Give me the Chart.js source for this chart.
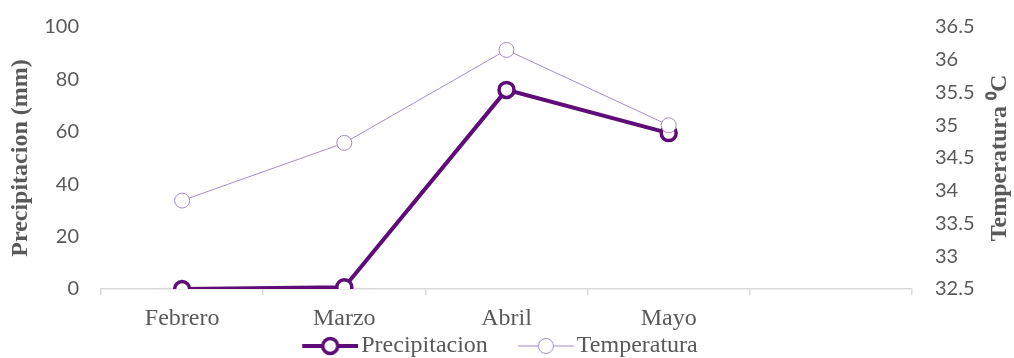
<!DOCTYPE html>
<html lang="es">
<head>
<meta charset="UTF-8">
<title>Precipitacion y Temperatura</title>
<script src="https://cdn.jsdelivr.net/npm/chart.js"></script>
<style>
  html,body{margin:0;padding:0;background:#fff;}
  #wrap{width:1014px;height:358px;position:relative;}
</style>
</head>
<body>
<div id="wrap"><canvas id="chart"></canvas></div>
<script>
const meses = ['Febrero', 'Marzo', 'Abril', 'Mayo', ''];
const precipitacion = [0, 0.7, 76, 59.5, null];
const temperatura = [33.85, 34.73, 36.15, 35.0, null];
const ticksPrecip = [0, 20, 40, 60, 80, 100];
const ticksTemp = [32.5, 33, 33.5, 34, 34.5, 35, 35.5, 36, 36.5];

const colPrecip = '#5E0C78';
const colTemp = '#A68CC0';
const gris = '#595959';
const serif = '"Liberation Serif", "Times New Roman", serif';

// legend swatch: blank lead-in on the left, then a line with a hollow circle
function swatch(color, lw, r, bw) {
  const c = document.createElement('canvas');
  c.width = 91; c.height = 22;
  const g = c.getContext('2d');
  g.strokeStyle = color;
  g.lineWidth = lw;
  g.beginPath(); g.moveTo(35, 11); g.lineTo(91, 11); g.stroke();
  g.beginPath(); g.arc(63, 11, r, 0, Math.PI * 2);
  g.fillStyle = '#fff'; g.fill();
  g.lineWidth = bw; g.stroke();
  return c;
}

// right axis title reads bottom to top; legend and x labels nudged into place
const ajustes = {
  id: 'ajustes',
  afterLayout(chart) {
    const lg = chart.legend;
    lg.top += 10; lg.bottom += 10;
    lg.left -= 20; lg.right -= 20;
    // let the month labels run below the squeezed x box without clipping
    const x = chart.scales.x;
    x.bottom += 30; x.height += 30;
  },
  afterDraw(chart) {
    const y = chart.scales.y1;
    const ctx = chart.ctx;
    ctx.save();
    ctx.translate(1000, (y.top + y.bottom) / 2);
    ctx.rotate(-Math.PI / 2);
    ctx.font = 'bold 24px ' + serif;
    ctx.fillStyle = gris;
    ctx.textAlign = 'center';
    ctx.textBaseline = 'middle';
    ctx.fillText('Temperatura \u2070C', 0, 0);
    ctx.restore();
  }
};

new Chart(document.getElementById('chart'), {
  type: 'line',
  data: {
    labels: meses,
    datasets: [
      {
        label: 'Temperatura',
        data: temperatura,
        yAxisID: 'y1',
        borderColor: colTemp,
        borderWidth: 1,
        pointRadius: 7.5,
        pointBorderWidth: 1,
        pointBackgroundColor: '#fff',
        pointBorderColor: colTemp,
        order: 1
      },
      {
        label: 'Precipitacion',
        data: precipitacion,
        yAxisID: 'y',
        borderColor: colPrecip,
        borderWidth: 4,
        pointRadius: 7.5,
        pointBorderWidth: 3.5,
        pointBackgroundColor: '#fff',
        pointBorderColor: colPrecip,
        order: 2
      }
    ]
  },
  options: {
    responsive: true,
    maintainAspectRatio: false,
    animation: false,
    layout: { padding: { top: 5, bottom: 0, left: 0, right: 0 } },
    plugins: {
      tooltip: { enabled: false },
      legend: {
        position: 'bottom',
        reverse: true,
        labels: {
          usePointStyle: true,
          pointStyleWidth: 73,
          boxHeight: 20,
          padding: 4,
          color: gris,
          font: { family: serif, size: 24 },
          generateLabels(chart) {
            return chart.data.datasets.map((ds, i) => ({
              text: ds.label,
              datasetIndex: i,
              fontColor: gris,
              pointStyle: i === 1 ? swatch(colPrecip, 4, 7.5, 3.5) : swatch(colTemp, 1, 7.5, 1),
              lineWidth: 0,
              hidden: false
            }));
          }
        }
      }
    },
    scales: {
      x: {
        offset: true,
        afterFit(s) { s.height = 31; },
        grid: { offset: true, drawOnChartArea: false, drawTicks: true, tickLength: 6, color: '#D9D9D9', lineWidth: 1.5 },
        border: { color: '#D9D9D9', width: 1.5 },
        ticks: { color: gris, padding: 9, font: { family: serif, size: 24 } }
      },
      y: {
        position: 'left',
        min: 0, max: 100,
        afterBuildTicks(s) { s.ticks = ticksPrecip.map(v => ({ value: v })); },
        afterFit(s) { s.width = 101; },
        grid: { display: false },
        border: { display: false },
        title: {
          display: true,
          text: 'Precipitacion (mm)',
          color: gris,
          padding: { top: 6, bottom: 0 },
          font: { family: serif, size: 24, weight: 'bold' }
        },
        ticks: { color: gris, padding: 14, font: { family: 'Lato, sans-serif', size: 20 } }
      },
      y1: {
        position: 'right',
        min: 32.5, max: 36.5,
        afterBuildTicks(s) { s.ticks = ticksTemp.map(v => ({ value: v })); },
        afterFit(s) { s.width = 102; },
        grid: { display: false },
        border: { display: false },
        ticks: {
          color: gris, padding: 15, font: { family: 'Lato, sans-serif', size: 20 },
          callback: v => String(v)
        }
      }
    }
  },
  plugins: [ajustes]
});
</script>
</body>
</html>
